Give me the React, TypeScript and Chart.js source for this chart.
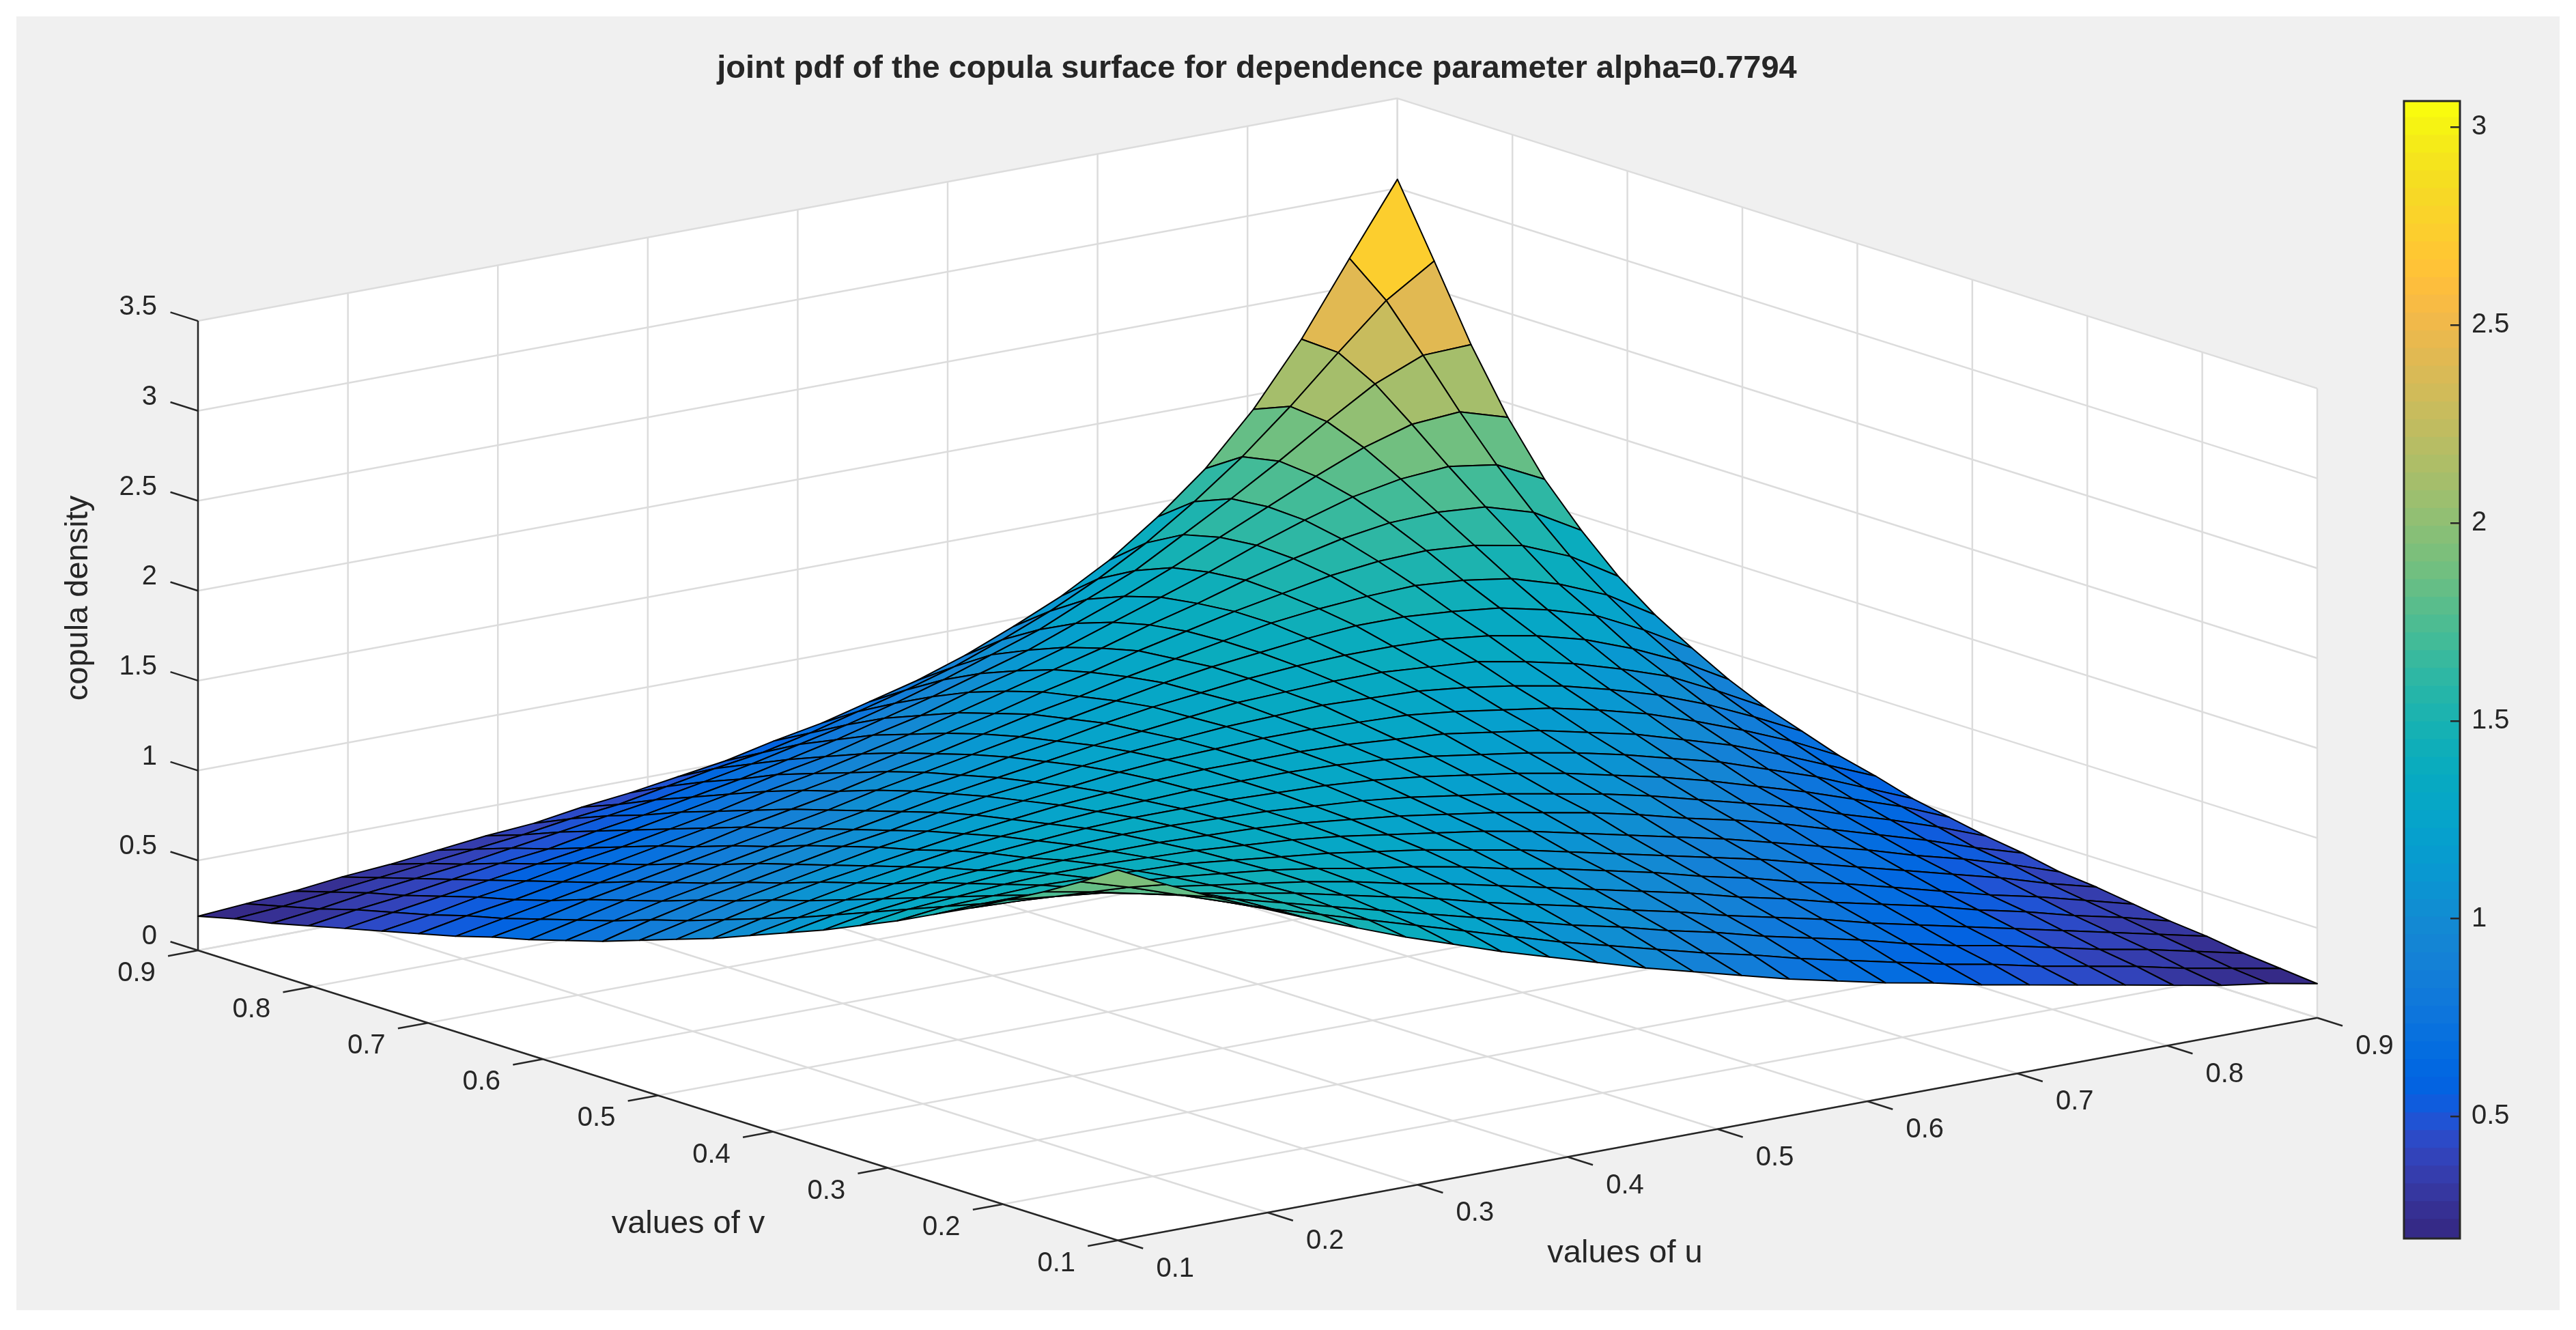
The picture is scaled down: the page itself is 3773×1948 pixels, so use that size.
import { useEffect, useRef } from "react";
import { Chart, registerables } from "chart.js";

Chart.register(...registerables);

const FONT = "'Liberation Sans', Arial, sans-serif";
const INK = "#262626";

const titleText = "joint pdf of the copula surface for dependence parameter alpha=0.7794";
const uLabel = "values of u";
const vLabel = "values of v";
const zLabel = "copula density";

const uTicks = [0.1, 0.2, 0.3, 0.4, 0.5, 0.6, 0.7, 0.8, 0.9];
const vTicks = [0.1, 0.2, 0.3, 0.4, 0.5, 0.6, 0.7, 0.8, 0.9];
const zTicks = [0, 0.5, 1, 1.5, 2, 2.5, 3, 3.5];
const colorbarTicks = [0.5, 1, 1.5, 2, 2.5, 3];
const colorbarMin = 0.192;
const colorbarMax = 3.066;

const gridNodes = [
  0.1, 0.132, 0.164, 0.196, 0.228, 0.26, 0.292, 0.324, 0.356, 0.388, 0.42, 0.452, 0.484,
  0.516, 0.548, 0.58, 0.612, 0.644, 0.676, 0.708, 0.74, 0.772, 0.804, 0.836, 0.868, 0.9,
];

// Upper triangle of the symmetric surface: row i holds z(u_i, v_j) for j >= i.
const surfaceRows = [
  [2.06, 1.93, 1.81, 1.7, 1.59, 1.49, 1.39, 1.3, 1.21, 1.13, 1.05, 0.97, 0.9, 0.83, 0.76, 0.7, 0.64, 0.59, 0.53, 0.48, 0.43, 0.38, 0.33, 0.28, 0.24, 0.19],
  [1.85, 1.76, 1.67, 1.58, 1.5, 1.42, 1.34, 1.26, 1.18, 1.1, 1.03, 0.96, 0.89, 0.83, 0.76, 0.7, 0.64, 0.58, 0.53, 0.47, 0.42, 0.37, 0.31, 0.26, 0.21],
  [1.7, 1.64, 1.57, 1.5, 1.43, 1.36, 1.29, 1.22, 1.15, 1.08, 1.02, 0.95, 0.89, 0.82, 0.76, 0.7, 0.63, 0.57, 0.52, 0.46, 0.4, 0.35, 0.29, 0.23],
  [1.59, 1.54, 1.49, 1.44, 1.38, 1.32, 1.26, 1.19, 1.13, 1.07, 1.0, 0.94, 0.87, 0.81, 0.75, 0.68, 0.62, 0.56, 0.5, 0.44, 0.38, 0.32, 0.26],
  [1.51, 1.47, 1.43, 1.39, 1.34, 1.28, 1.23, 1.17, 1.11, 1.05, 0.99, 0.93, 0.86, 0.8, 0.73, 0.67, 0.61, 0.54, 0.48, 0.41, 0.35, 0.28],
  [1.45, 1.42, 1.39, 1.35, 1.3, 1.26, 1.21, 1.15, 1.1, 1.04, 0.98, 0.91, 0.85, 0.78, 0.72, 0.65, 0.58, 0.51, 0.45, 0.38, 0.31],
  [1.41, 1.38, 1.35, 1.32, 1.28, 1.24, 1.19, 1.14, 1.08, 1.02, 0.96, 0.9, 0.84, 0.77, 0.7, 0.63, 0.56, 0.49, 0.41, 0.34],
  [1.37, 1.35, 1.33, 1.3, 1.26, 1.22, 1.18, 1.13, 1.07, 1.01, 0.95, 0.89, 0.82, 0.75, 0.68, 0.6, 0.53, 0.45, 0.36],
  [1.34, 1.33, 1.31, 1.28, 1.25, 1.21, 1.17, 1.12, 1.07, 1.01, 0.94, 0.88, 0.81, 0.73, 0.65, 0.57, 0.48, 0.4],
  [1.32, 1.31, 1.29, 1.27, 1.24, 1.2, 1.16, 1.11, 1.06, 1.0, 0.93, 0.86, 0.79, 0.7, 0.62, 0.53, 0.43],
  [1.31, 1.3, 1.29, 1.27, 1.24, 1.2, 1.16, 1.11, 1.05, 0.99, 0.92, 0.84, 0.76, 0.67, 0.58, 0.47],
  [1.3, 1.3, 1.29, 1.27, 1.24, 1.2, 1.16, 1.11, 1.05, 0.98, 0.91, 0.82, 0.73, 0.62, 0.51],
  [1.3, 1.3, 1.29, 1.27, 1.25, 1.21, 1.17, 1.11, 1.05, 0.97, 0.89, 0.79, 0.68, 0.57],
  [1.31, 1.31, 1.3, 1.29, 1.26, 1.22, 1.18, 1.12, 1.05, 0.96, 0.86, 0.75, 0.62],
  [1.32, 1.33, 1.32, 1.31, 1.28, 1.24, 1.19, 1.12, 1.04, 0.94, 0.82, 0.69],
  [1.34, 1.35, 1.35, 1.33, 1.31, 1.26, 1.2, 1.12, 1.03, 0.9, 0.76],
  [1.37, 1.38, 1.38, 1.37, 1.34, 1.29, 1.22, 1.12, 1.0, 0.85],
  [1.41, 1.43, 1.43, 1.41, 1.38, 1.32, 1.24, 1.11, 0.96],
  [1.46, 1.48, 1.49, 1.47, 1.43, 1.35, 1.24, 1.08],
  [1.53, 1.56, 1.57, 1.55, 1.5, 1.39, 1.23],
  [1.62, 1.66, 1.67, 1.65, 1.57, 1.42],
  [1.74, 1.79, 1.81, 1.77, 1.64],
  [1.9, 1.98, 2.0, 1.92],
  [2.14, 2.25, 2.26],
  [2.49, 2.66],
  [3.05],
];

const parulaMap = [
  [0.2081, 0.1663, 0.5292], [0.2116, 0.1898, 0.5777], [0.2123, 0.2138, 0.627], [0.2081, 0.2386, 0.6771],
  [0.1959, 0.2645, 0.7279], [0.1707, 0.2919, 0.7792], [0.1253, 0.3242, 0.8303], [0.0591, 0.3598, 0.8683],
  [0.0117, 0.3875, 0.882], [0.006, 0.4086, 0.8828], [0.0165, 0.4266, 0.8786], [0.0329, 0.443, 0.872],
  [0.0498, 0.4586, 0.8641], [0.0629, 0.4737, 0.8554], [0.0723, 0.4887, 0.8467], [0.0779, 0.504, 0.8384],
  [0.0793, 0.52, 0.8312], [0.0749, 0.5375, 0.8263], [0.0641, 0.557, 0.824], [0.0488, 0.5772, 0.8228],
  [0.0343, 0.5966, 0.8199], [0.0265, 0.6137, 0.8135], [0.0239, 0.6287, 0.8038], [0.0231, 0.6418, 0.7913],
  [0.0228, 0.6535, 0.7768], [0.0267, 0.6642, 0.7607], [0.0384, 0.6743, 0.7436], [0.059, 0.6838, 0.7254],
  [0.0843, 0.6928, 0.7062], [0.1133, 0.7015, 0.6859], [0.1453, 0.7098, 0.6646], [0.1801, 0.7177, 0.6424],
  [0.2178, 0.725, 0.6193], [0.2586, 0.7317, 0.5954], [0.3022, 0.7376, 0.5712], [0.3482, 0.7424, 0.5473],
  [0.3953, 0.7459, 0.5244], [0.442, 0.7481, 0.5033], [0.4871, 0.7491, 0.484], [0.53, 0.7491, 0.4661],
  [0.5709, 0.7485, 0.4494], [0.6099, 0.7473, 0.4337], [0.6473, 0.7456, 0.4188], [0.6834, 0.7435, 0.4044],
  [0.7184, 0.7411, 0.3905], [0.7525, 0.7384, 0.3768], [0.7858, 0.7356, 0.3633], [0.8185, 0.7327, 0.3498],
  [0.8507, 0.7299, 0.336], [0.8824, 0.7274, 0.3217], [0.9139, 0.7258, 0.3063], [0.945, 0.7261, 0.2886],
  [0.9739, 0.7314, 0.2666], [0.9938, 0.7455, 0.2403], [0.999, 0.7653, 0.2164], [0.9955, 0.7861, 0.1967],
  [0.988, 0.8066, 0.1794], [0.9789, 0.8271, 0.1633], [0.9697, 0.8481, 0.1475], [0.9626, 0.8705, 0.1309],
  [0.9589, 0.8949, 0.1132], [0.9598, 0.9218, 0.0948], [0.9661, 0.9514, 0.0755], [0.9763, 0.9831, 0.0538],
];

// Orthographic view of the MATLAB axes box, in canvas units.
const U0 = 0.1, U1 = 0.9, V0 = 0.1, V1 = 0.9, Z1 = 3.5;
const projX = (u: number, v: number) => 290 + 2196 * (u - 0.1) - 1684 * (v - 0.9);
const projY = (u: number, v: number, z: number) => 1392 - 407.5 * (u - 0.1) - 531 * (v - 0.9) - 263.4 * z;
const pt = (u: number, v: number, z: number) => ({ x: projX(u, v), y: projY(u, v, z) });

const zAt = (i: number, j: number) => (i <= j ? surfaceRows[i][j - i] : surfaceRows[j][i - j]);

const rgb = (c: number[]) => `rgb(${Math.round(c[0] * 255)},${Math.round(c[1] * 255)},${Math.round(c[2] * 255)})`;
const colorFor = (z: number) => {
  const n = parulaMap.length;
  const k = Math.floor(((z - colorbarMin) / (colorbarMax - colorbarMin)) * n);
  return rgb(parulaMap[Math.max(0, Math.min(n - 1, k))]);
};

const poly = (points: { x: number; y: number }[], color: string, width: number, fillColor?: string) => ({
  type: "line",
  data: points,
  borderColor: color,
  borderWidth: width,
  backgroundColor: fillColor ?? "transparent",
  fill: fillColor ? "shape" : false,
  pointRadius: 0,
  pointHoverRadius: 0,
  tension: 0,
  borderJoinStyle: "round",
});

function buildDatasets() {
  const back: any[] = [];
  // white walls and floor
  back.push(
    poly(
      [pt(U0, V1, 0), pt(U0, V1, Z1), pt(U1, V1, Z1), pt(U1, V0, Z1), pt(U1, V0, 0), pt(U0, V0, 0), pt(U0, V1, 0)],
      "transparent",
      0,
      "#ffffff",
    ),
  );
  const GRID = "#dcdcdc";
  const GW = 2.5;
  for (const u of uTicks) {
    back.push(poly([pt(u, V0, 0), pt(u, V1, 0), pt(u, V1, Z1)], GRID, GW));
  }
  for (const v of vTicks) {
    back.push(poly([pt(U0, v, 0), pt(U1, v, 0), pt(U1, v, Z1)], GRID, GW));
  }
  for (const z of zTicks) {
    back.push(poly([pt(U0, V1, z), pt(U1, V1, z), pt(U1, V0, z)], GRID, GW));
  }
  // dark axes and ticks
  const AW = 2.5;
  back.push(poly([pt(U0, V1, 0), pt(U0, V1, Z1)], INK, AW));
  back.push(poly([pt(U0, V1, 0), pt(U0, V0, 0)], INK, AW));
  back.push(poly([pt(U0, V0, 0), pt(U1, V0, 0)], INK, AW));
  for (const z of zTicks) back.push(poly([pt(U0, V1, z), pt(U0, V1 + 0.024, z)], INK, AW));
  for (const v of vTicks) back.push(poly([pt(U0, v, 0), pt(U0 - 0.02, v, 0)], INK, AW));
  for (const u of uTicks) back.push(poly([pt(u, V0, 0), pt(u, V0 - 0.022, 0)], INK, AW));

  // surface facets, rear to front
  const n = gridNodes.length;
  const cells: { d: number; i: number; j: number }[] = [];
  for (let i = 0; i < n - 1; i++) for (let j = 0; j < n - 1; j++) cells.push({ d: i + j, i, j });
  cells.sort((a, b) => b.d - a.d);
  for (const { i, j } of cells) {
    const a = zAt(i, j), b = zAt(i + 1, j), c = zAt(i + 1, j + 1), d = zAt(i, j + 1);
    const ui = gridNodes[i], ui1 = gridNodes[i + 1], vj = gridNodes[j], vj1 = gridNodes[j + 1];
    back.push(
      poly(
        [pt(ui, vj, a), pt(ui1, vj, b), pt(ui1, vj1, c), pt(ui, vj1, d), pt(ui, vj, a)],
        "#000000",
        2,
        colorFor((a + b + c + d) / 4),
      ),
    );
  }
  // Chart.js paints dataset 0 last, so reverse the back-to-front list.
  return back.reverse();
}

const TITLE_SIZE = 47;
const TITLE_LINE = TITLE_SIZE * 1.2;
const TITLE_PAD = 101 - TITLE_LINE / 2;
const TITLE_BLOCK = TITLE_PAD + TITLE_LINE;

const axisText = {
  id: "axisText",
  afterDatasetsDraw(chart: any) {
    const { ctx, scales } = chart;
    const sx = (v: number) => scales.x.getPixelForValue(v);
    const sy = (v: number) => scales.y.getPixelForValue(v);
    ctx.save();
    ctx.fillStyle = INK;
    ctx.textBaseline = "middle";
    ctx.font = `40px ${FONT}`;
    ctx.textAlign = "right";
    for (const z of zTicks) {
      const p = pt(U0, V1, z);
      ctx.fillText(String(z), sx(p.x - 60), sy(p.y - 20));
    }
    ctx.textAlign = "center";
    for (const v of vTicks) {
      const p = pt(U0, v, 0);
      ctx.fillText(v.toFixed(1), sx(p.x - 90), sy(p.y + 34));
    }
    for (const u of uTicks) {
      const p = pt(u, V0, 0);
      ctx.fillText(u.toFixed(1), sx(p.x + 84), sy(p.y + 42));
    }
    ctx.font = `47px ${FONT}`;
    ctx.fillText(vLabel, sx(1008), sy(1793));
    ctx.fillText(uLabel, sx(2380), sy(1836));
    ctx.translate(sx(115), sy(876));
    ctx.rotate(-Math.PI / 2);
    ctx.fillText(zLabel, 0, 0);
    ctx.restore();
  },
};

const colorbarFrame = {
  id: "colorbarFrame",
  afterDraw(chart: any) {
    const { ctx, chartArea: a } = chart;
    ctx.save();
    ctx.strokeStyle = INK;
    ctx.lineWidth = 3;
    ctx.strokeRect(a.left, a.top, a.right - a.left, a.bottom - a.top);
    ctx.restore();
  },
};

export default function App() {
  const mainRef = useRef<HTMLCanvasElement | null>(null);
  const barRef = useRef<HTMLCanvasElement | null>(null);

  useEffect(() => {
    Chart.defaults.font.family = FONT;
    const main = new Chart(mainRef.current as any, {
      type: "line",
      data: { datasets: buildDatasets() as any },
      plugins: [axisText],
      options: {
        animation: false,
        responsive: false,
        events: [],
        layout: { padding: 0, autoPadding: false },
        plugins: {
          legend: { display: false },
          tooltip: { enabled: false },
          title: {
            display: true,
            text: titleText,
            color: INK,
            font: { size: TITLE_SIZE, weight: "bold", family: FONT, lineHeight: 1.2 },
            padding: { top: TITLE_PAD, bottom: 0 },
          },
        },
        scales: {
          x: { type: "linear", display: false, min: 0, max: 3682 },
          y: { type: "linear", display: false, min: TITLE_BLOCK, max: 1948, reverse: true },
        },
      } as any,
    });

    const n = parulaMap.length;
    const step = (colorbarMax - colorbarMin) / n;
    const bar = new Chart(barRef.current as any, {
      type: "bar",
      data: {
        labels: [""],
        datasets: parulaMap.map((c, k) => ({
          data: [[colorbarMin + k * step, Math.min(colorbarMax, colorbarMin + (k + 1) * step + 0.004)]],
          backgroundColor: rgb(c),
          borderWidth: 0,
          grouped: false,
          barPercentage: 1,
          categoryPercentage: 1,
        })) as any,
      },
      plugins: [colorbarFrame],
      options: {
        animation: false,
        responsive: false,
        events: [],
        layout: { padding: { left: 20, top: 20, bottom: 20, right: 0 }, autoPadding: false },
        plugins: { legend: { display: false }, tooltip: { enabled: false } },
        scales: {
          x: { display: false },
          y: {
            type: "linear",
            position: "right",
            min: colorbarMin,
            max: colorbarMax,
            afterBuildTicks: (s: any) => {
              s.ticks = colorbarTicks.map((value) => ({ value }));
            },
            afterFit: (s: any) => {
              s.width = 120;
              s.paddingTop = 0;
              s.paddingBottom = 0;
            },
            border: { display: false },
            grid: { display: true, drawOnChartArea: false, drawTicks: true, tickLength: -14, color: INK, lineWidth: 2.5, z: 1 },
            ticks: {
              autoSkip: false,
              padding: 31,
              color: INK,
              font: { size: 40, family: FONT },
              callback: (v: any) => String(v),
            },
          },
        },
      } as any,
    });
    return () => {
      main.destroy();
      bar.destroy();
    };
  }, []);

  return (
    <div style={{ position: "absolute", left: 0, top: 0, width: 3773, height: 1948, background: "#ffffff", overflow: "hidden" }}>
      <div style={{ position: "absolute", left: 24, top: 24, width: 3725, height: 1895, background: "#f0f0f0" }} />
      <canvas ref={mainRef} width={3682} height={1948} style={{ position: "absolute", left: 0, top: 0, display: "block" }} />
      <canvas ref={barRef} width={222} height={1706} style={{ position: "absolute", left: 3501, top: 128, display: "block" }} />
    </div>
  );
}
